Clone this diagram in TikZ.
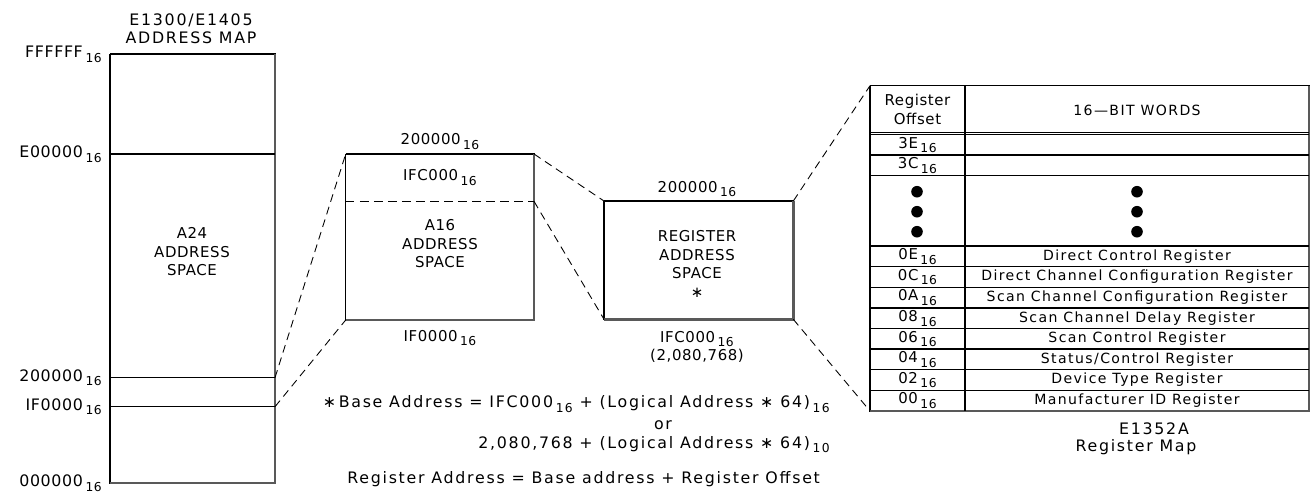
\documentclass[tikz,border=0pt]{standalone}
\usepackage{fontspec}
\setmainfont{DejaVu Sans}[LetterSpace=4]
\newcommand{\base}[1]{\,\raisebox{-0.55ex}{\fontsize{7}{7}\selectfont #1}}
\begin{document}
\begin{tikzpicture}[x=0.02cm, y=-0.02cm,
    lbl/.style={font=\fontsize{8.5}{10.5}\selectfont, inner sep=0pt, align=center},
    widelbl/.style={font={\fontsize{9}{10.5}\selectfont\addfontfeatures{LetterSpace=11}}, inner sep=0pt, align=center},
    tbl/.style={font={\fontsize{8}{9.5}\selectfont\addfontfeatures{LetterSpace=10}}, inner sep=0pt, align=center},
    edge/.style={line width=0.6pt},
    shade/.style={line width=1.4pt, black!65},
    zoomline/.style={line width=0.5pt, dash pattern=on 4.5pt off 3pt}]
    \useasboundingbox (0, 0) rectangle (1312, 498);

    % E1300/E1405 address map
    \coordinate (mapNW) at (110, 54);
    \coordinate (mapNE) at (275, 54);
    \coordinate (mapSW) at (110, 483);
    \coordinate (mapSE) at (275, 483);
    \coordinate (mapA) at (275, 377.7);
    \coordinate (mapB) at (275, 406.7);
    \draw [edge] (mapNW) -- (mapNE) -- (mapSE) -- (mapSW) -- (mapNW);
    \draw [shade] (mapNE) -- (mapSE) -- (mapSW);
    \draw [edge] (110, 154) -- (275, 154);
    \draw [edge] (110, 377.7) -- (mapA);
    \draw [edge] (110, 406.7) -- (mapB);
    \node [widelbl] (mapTitle) at (191, 29) {E1300/E1405\\ADDRESS MAP};
    \node [lbl] (a24) at (192, 252) {A24\\ADDRESS\\SPACE};
    \node [lbl, font=\fontsize{9}{10.5}\selectfont, anchor=east] (hFF) at (102, 54) {FFFFFF\base{16}};
    \node [lbl, font=\fontsize{9}{10.5}\selectfont, anchor=east] (hE0) at (102, 154) {E00000\base{16}};
    \node [lbl, font=\fontsize{9}{10.5}\selectfont, anchor=east] (h20) at (102, 377.7) {200000\base{16}};
    \node [lbl, font=\fontsize{9}{10.5}\selectfont, anchor=east] (h1F) at (102, 406.7) {IF0000\base{16}};
    \node [lbl, font=\fontsize{9}{10.5}\selectfont, anchor=east] (h00) at (102, 483) {000000\base{16}};

    % A16 address space
    \coordinate (a16NW) at (345.7, 154);
    \coordinate (a16NE) at (534, 154);
    \coordinate (a16SW) at (345.7, 320);
    \coordinate (a16SE) at (534, 320);
    \coordinate (a16W) at (345.7, 201.3);
    \coordinate (a16E) at (534, 201.3);
    \draw [edge] (a16NW) -- (a16NE) -- (a16SE) -- (a16SW) -- (a16NW);
    \draw [shade] (a16NE) -- (a16SE) -- (a16SW);
    \draw [edge, dash pattern=on 5pt off 3pt] (a16W) -- (a16E);
    \node [lbl] (a16top) at (440, 141.5) {200000\base{16}};
    \node [lbl] (a16fc) at (440, 177.5) {IFC000\base{16}};
    \node [lbl] (a16) at (440, 244) {A16\\ADDRESS\\SPACE};
    \node [lbl] (a16bot) at (440, 338) {IF0000\base{16}};

    % register address space
    \coordinate (regNW) at (604, 201);
    \coordinate (regNE) at (793.3, 201);
    \coordinate (regSW) at (604, 319.3);
    \coordinate (regSE) at (793.3, 319.3);
    \draw [edge] (regNW) -- (regNE) -- (regSE) -- (regSW) -- (regNW);
    \draw [shade] (regNE) -- (regSE) -- (regSW);
    \node [lbl] (regtop) at (697, 189) {200000\base{16}};
    \node [lbl] (reg) at (697, 264) {REGISTER\\ADDRESS\\SPACE\\∗};
    \node [lbl] (regbot) at (697, 347) {IFC000\base{16}\\(2,080,768)};

    % E1352A register map
    \coordinate (tabNW) at (870, 85.7);
    \coordinate (tabNE) at (1309, 85.7);
    \coordinate (tabSW) at (870, 411);
    \coordinate (tabSE) at (1309, 411);
    \draw [edge] (tabNW) -- (tabNE) -- (tabSE) -- (tabSW) -- (tabNW);
    \draw [shade] (tabNE) -- (tabSE) -- (tabSW);
    \draw [edge] (965, 85.7) -- (965, 411);
    \draw [edge] (870, 132.4) -- (1309, 132.4);
    \draw [edge] (870, 134.6) -- (1309, 134.6);
    \draw [edge] (870, 155) -- (1309, 155);
    \draw [edge] (870, 175.7) -- (1309, 175.7);
    \draw [edge] (870, 246) -- (1309, 246);
    \draw [edge] (870, 266.7) -- (1309, 266.7);
    \draw [edge] (870, 287.3) -- (1309, 287.3);
    \draw [edge] (870, 308) -- (1309, 308);
    \draw [edge] (870, 328.5) -- (1309, 328.5);
    \draw [edge] (870, 349) -- (1309, 349);
    \draw [edge] (870, 369.7) -- (1309, 369.7);
    \draw [edge] (870, 390.3) -- (1309, 390.3);
    \node [lbl] (offHead) at (917.5, 109.5) {Register\\Offset};
    \node [tbl] (wordHead) at (1137, 110) {16---BIT WORDS};
    \node [lbl] (o3E) at (917.5, 145) {3E\base{16}};
    \node [lbl] (o3C) at (917.5, 165.5) {3C\base{16}};
    \fill (917, 191.7) circle (3.3pt);
    \fill (917, 211.7) circle (3.3pt);
    \fill (917, 231.7) circle (3.3pt);
    \fill (1137, 191.7) circle (3.3pt);
    \fill (1137, 211.7) circle (3.3pt);
    \fill (1137, 231.7) circle (3.3pt);
    \node [lbl] (o0E) at (917.5, 256.5) {0E\base{16}};
    \node [lbl] (o0C) at (917.5, 277) {0C\base{16}};
    \node [lbl] (o0A) at (917.5, 297.7) {0A\base{16}};
    \node [lbl] (o08) at (917.5, 318.3) {08\base{16}};
    \node [lbl] (o06) at (917.5, 338.8) {06\base{16}};
    \node [lbl] (o04) at (917.5, 359.4) {04\base{16}};
    \node [lbl] (o02) at (917.5, 380) {02\base{16}};
    \node [lbl] (o00) at (917.5, 400.7) {00\base{16}};
    \node [tbl] (r0E) at (1137, 256.5) {Direct Control Register};
    \node [tbl] (r0C) at (1137, 277) {Direct Channel Configuration Register};
    \node [tbl] (r0A) at (1137, 297.7) {Scan Channel Configuration Register};
    \node [tbl] (r08) at (1137, 318.3) {Scan Channel Delay Register};
    \node [tbl] (r06) at (1137, 338.8) {Scan Control Register};
    \node [tbl] (r04) at (1137, 359.4) {Status/Control Register};
    \node [tbl] (r02) at (1137, 380) {Device Type Register};
    \node [tbl] (r00) at (1137, 400.7) {Manufacturer ID Register};
    \node [widelbl] (tabTitleA) at (1154, 429) {E1352A};
    \node [widelbl] (tabTitleB) at (1136, 447) {Register Map};

    % zoom lines
    \draw [zoomline] (mapA) -- (a16NW);
    \draw [zoomline] (mapB) -- (a16SW);
    \draw [zoomline] (a16NE) -- (regNW);
    \draw [zoomline] (a16E) -- (regSW);
    \draw [zoomline] (regNE) -- (tabNW);
    \draw [zoomline] (regSE) -- (tabSW);

    % formulas
    \node [widelbl, anchor=east] (baseA) at (830, 404) {∗\,Base Address = IFC000\base{16} + (Logical Address ∗ 64)\base{16}};
    \node [widelbl] (orWord) at (663, 425) {or};
    \node [widelbl, anchor=east] (baseB) at (830, 444.5) {2,080,768 + (Logical Address ∗ 64)\base{10}};
    \node [widelbl, anchor=west] (regAddr) at (347, 479) {Register Address = Base address + Register Offset};
\end{tikzpicture}
\end{document}
